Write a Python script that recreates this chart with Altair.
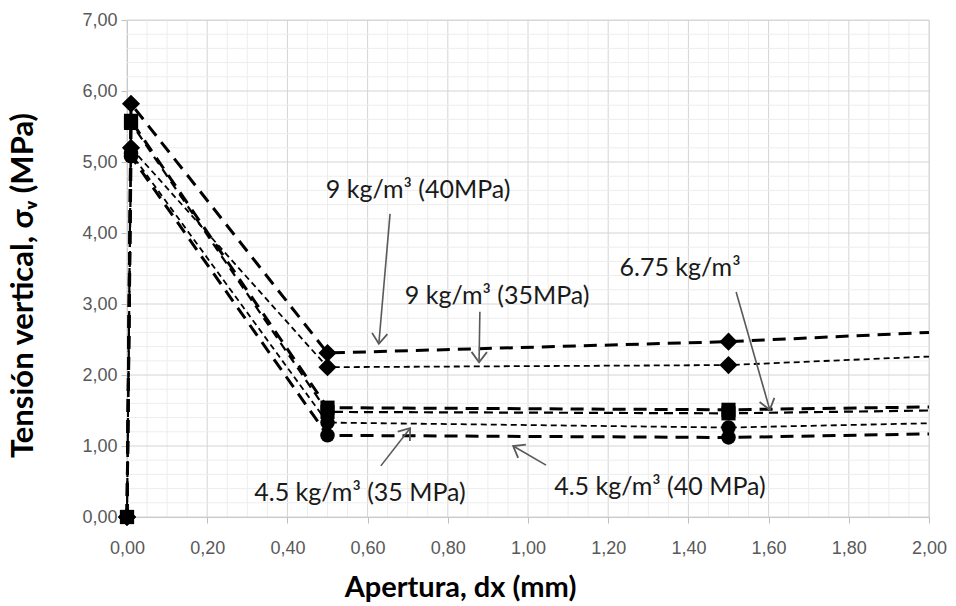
import math
import altair as alt
import pandas as pd
import numpy as np

# ---------------- data ----------------
apertura = [0.0, 0.01, 0.50, 1.50, 2.00]
s9_40 = [0.0, 5.82, 2.31, 2.47, 2.60]
s9_35 = [0.0, 5.20, 2.11, 2.14, 2.26]
s675_40 = [0.0, 5.58, 1.54, 1.51, 1.55]
s675_35 = [0.0, 5.55, 1.48, 1.46, 1.50]
s45_35 = [0.0, 5.12, 1.33, 1.26, 1.32]
s45_40 = [0.0, 5.08, 1.15, 1.12, 1.17]

series_names = ["9 kg/m³ (40MPa)", "9 kg/m³ (35MPa)", "6.75 kg/m³ (40MPa)",
                "6.75 kg/m³ (35MPa)", "4.5 kg/m³ (35 MPa)", "4.5 kg/m³ (40 MPa)"]
series_values = [s9_40, s9_35, s675_40, s675_35, s45_35, s45_40]
shapes = ["diamond", "diamond", "square", "square", "circle", "circle"]
widths = [3.0, 1.8, 3.0, 2.2, 1.8, 3.0]
dashes = [[13, 8], [6, 4], [13, 8], [9, 6], [6, 4], [13, 8]]
marker_sizes = [330, 330, 200, 200, 210, 210]

# annotations
ann_text = ["9 kg/m³ (40MPa)", "9 kg/m³ (35MPa)", "6.75 kg/m³",
            "4.5 kg/m³ (35 MPa)", "4.5 kg/m³ (40 MPa)"]
ann_tx = [0.726, 0.923, 1.379, 0.581, 1.329]
ann_ty = [4.61, 3.11, 3.51, 0.34, 0.42]
arrow_x1 = [0.656, 0.880, 1.519, 0.633, 1.045]
arrow_y1 = [4.27, 2.89, 3.17, 0.72, 0.73]
arrow_x2 = [0.628, 0.878, 1.603, 0.706, 0.963]
arrow_y2 = [2.44, 2.18, 1.51, 1.25, 1.00]

x_ticks = [0.0, 0.2, 0.4, 0.6, 0.8, 1.0, 1.2, 1.4, 1.6, 1.8, 2.0]
y_ticks = [0, 1, 2, 3, 4, 5, 6, 7]

W, H = 802, 497
XMAX, YMAX = 2.0, 7.0

# ---------------- scales ----------------
xs = alt.Scale(domain=[0, XMAX], nice=False, zero=False)
ys = alt.Scale(domain=[0, YMAX], nice=False, zero=False)

# gridlines
gx_minor = [round(v, 2) for v in np.arange(0, XMAX + 1e-9, 0.05) if round(v, 2) not in x_ticks]
gy_minor = [round(v, 1) for v in np.arange(0, YMAX + 1e-9, 0.2) if round(v, 1) not in [float(t) for t in y_ticks]]

gx_df = pd.DataFrame({"x": gx_minor + x_ticks,
                      "kind": ["minor"] * len(gx_minor) + ["major"] * len(x_ticks)})
gy_df = pd.DataFrame({"y": gy_minor + [float(t) for t in y_ticks],
                      "kind": ["minor"] * len(gy_minor) + ["major"] * len(y_ticks)})

grid_color = alt.Color("kind:N", scale=alt.Scale(domain=["minor", "major"],
                                                  range=["#ededed", "#d4d4d4"]), legend=None)
gx = alt.Chart(gx_df).mark_rule(strokeWidth=1).encode(
    x=alt.X("x:Q", scale=xs), color=grid_color)
gy = alt.Chart(gy_df).mark_rule(strokeWidth=1).encode(
    y=alt.Y("y:Q", scale=ys), color=grid_color)

# ---------------- series ----------------
label_expr = "replace(format(datum.value, '.2f'), '.', ',')"
x_axis = alt.Axis(values=x_ticks, labelExpr=label_expr, grid=False, labelFlush=False,
                  labelOverlap=False,
                  title="Apertura, dx (mm)", domainColor="#bfbfbf", tickColor="#bfbfbf",
                  tickSize=6, labelPadding=16, labelFont="Liberation Sans", labelFontSize=18,
                  labelColor="#595959", titleFont="Lato", titleFontSize=29, titleFontWeight="bold",
                  titleColor="#000000", titleX=333, titleY=70, titleAlign="center",
                  titleBaseline="middle")
y_axis = alt.Axis(values=y_ticks, labelExpr=label_expr, grid=False, labelOverlap=False,
                  title="Tensión vertical, σᵥ (MPa)", domainColor="#bfbfbf", tickColor="#bfbfbf",
                  tickSize=6, labelPadding=4, labelFont="Liberation Sans", labelFontSize=18,
                  labelColor="#595959", titleFont="Lato", titleFontSize=31, titleFontWeight="bold",
                  titleColor="#000000", titleX=-104, titleY=265, titleAlign="center",
                  titleBaseline="middle", titleAngle=270)

layers = [gx, gy]
first = True
for name, vals, shp, w, d, ms in zip(series_names, series_values, shapes, widths, dashes, marker_sizes):
    df = pd.DataFrame({"x": apertura, "y": vals, "serie": name})
    if first:
        xe = alt.X("x:Q", scale=xs, axis=x_axis)
        ye = alt.Y("y:Q", scale=ys, axis=y_axis)
        first = False
    else:
        xe = alt.X("x:Q", scale=xs)
        ye = alt.Y("y:Q", scale=ys)
    line = alt.Chart(df).mark_line(color="black", strokeWidth=w, strokeDash=d).encode(
        x=xe, y=ye)
    layers.append(line)
for name, vals, shp, w, d, ms in zip(series_names, series_values, shapes, widths, dashes, marker_sizes):
    df = pd.DataFrame({"x": apertura, "y": vals, "serie": name})
    df = df[df["x"] < XMAX]
    pts = alt.Chart(df).mark_point(shape=shp, filled=True, color="black", opacity=1,
                                   size=ms).encode(x=alt.X("x:Q", scale=xs), y=alt.Y("y:Q", scale=ys))
    layers.append(pts)

# ---------------- annotations ----------------
ang = []
for a, b, c, e in zip(arrow_x1, arrow_y1, arrow_x2, arrow_y2):
    dx = (c - a) * W / XMAX
    dy = -(e - b) * H / YMAX
    ang.append((math.degrees(math.atan2(dy, dx)) + 360) % 360)
arr_df = pd.DataFrame({"x1": arrow_x1, "y1": arrow_y1, "x2": arrow_x2, "y2": arrow_y2, "ang": ang})

shafts = alt.Chart(arr_df).mark_rule(color="#595959", strokeWidth=1.6).encode(
    x=alt.X("x1:Q", scale=xs), y=alt.Y("y1:Q", scale=ys),
    x2="x2:Q", y2="y2:Q")
heads = alt.Chart(arr_df).mark_point(
    shape="M -1 -0.75 L 0 0 L -1 0.75", filled=False, color="#595959",
    strokeWidth=1.8, size=420, opacity=1).encode(
    x=alt.X("x2:Q", scale=xs), y=alt.Y("y2:Q", scale=ys),
    angle=alt.Angle("ang:Q", scale=None))
txt_df = pd.DataFrame({"x": ann_tx, "y": ann_ty, "t": ann_text})
texts = alt.Chart(txt_df).mark_text(font="Lato", fontSize=25, color="#1a1a1a",
                                    align="center", baseline="middle").encode(
    x=alt.X("x:Q", scale=xs), y=alt.Y("y:Q", scale=ys), text="t:N")

layers += [shafts, heads, texts]

chart = alt.layer(*layers).properties(
    width=W, height=H,
    autosize=alt.AutoSizeParams(type="none"),
    padding={"left": 127, "top": 20, "right": 27, "bottom": 89},
).configure_view(stroke=None).configure(background="white")

chart.save("out.html", embed_options={"renderer": "svg", "actions": False})
